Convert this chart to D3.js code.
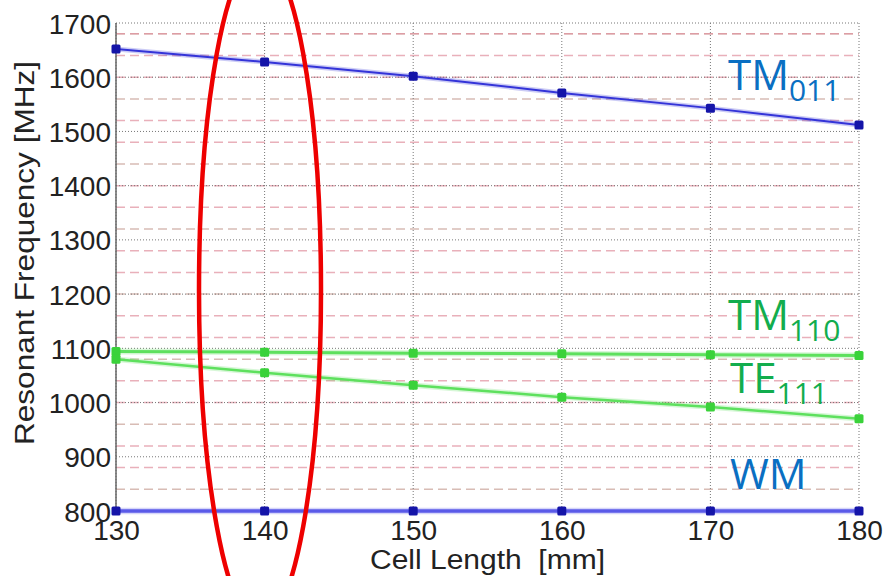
<!DOCTYPE html>
<html>
<head>
<meta charset="utf-8">
<script src="https://cdn.jsdelivr.net/npm/d3@7"></script>
<style>
	body { margin: 0; background: #fff; }
	svg text { font-family: "Liberation Sans", Arial, sans-serif; fill: #222; }
	.ann { font-family: "Open Sans", "Noto Sans", sans-serif; }
</style>
</head>
<body>
<svg width="887" height="576"></svg>
<script>
// cell length [mm]
var cellLength = [130, 140, 150, 160, 170, 180];

// resonant frequencies [MHz]
var tm011 = [1652, 1628, 1602, 1571, 1543, 1512];
var tm110 = [1094, 1093, 1091, 1090, 1088, 1087];
var te111 = [1080, 1055, 1032, 1010, 992, 970];
var wm = [800, 800, 800, 800, 800, 800];

var yTicks = [800, 900, 1000, 1100, 1200, 1300, 1400, 1500, 1600, 1700];
var dashLevels = d3.range(800, 1700, 40).concat([1680]);

var svg = d3.select("svg"),
	width = +svg.attr("width"),
	height = +svg.attr("height");

var x = d3.scaleLinear().domain([130, 180]).range([116, 859]);
var y = d3.scaleLinear().domain([800, 1700]).range([511, 23]);

// red dashed lines
svg.append("g")
	.selectAll("line")
	.data(dashLevels)
	.enter().append("line")
		.attr("x1", x(130)).attr("x2", x(180))
		.attr("y1", function(d) { return y(d); })
		.attr("y2", function(d) { return y(d); })
		.attr("stroke", function(d, i) { return i % 3 == 1 ? "#c8a096" : "#e0909e"; })
		.attr("stroke-width", 1.5)
		.attr("stroke-dasharray", "9,5")
		.attr("opacity", 0.7);

// dotted grid
svg.append("g")
	.selectAll("line")
	.data(yTicks)
	.enter().append("line")
		.attr("x1", x(130)).attr("x2", x(180))
		.attr("y1", function(d) { return y(d); })
		.attr("y2", function(d) { return y(d); })
		.attr("stroke", "#777")
		.attr("stroke-dasharray", "1,2");

svg.append("g")
	.selectAll("line")
	.data(cellLength)
	.enter().append("line")
		.attr("x1", function(d) { return x(d); })
		.attr("x2", function(d) { return x(d); })
		.attr("y1", y(1700)).attr("y2", y(800))
		.attr("stroke", "#777")
		.attr("stroke-dasharray", "1,2");

// left axis
svg.append("line")
	.attr("x1", x(130)).attr("x2", x(130))
	.attr("y1", y(1700)).attr("y2", y(800))
	.attr("stroke", "#666").attr("stroke-width", 1.5);

var yAxis = d3.axisLeft(y).tickValues(yTicks).tickSize(0).tickPadding(5).tickFormat(d3.format("d"));
var gy = svg.append("g").attr("transform", "translate(" + x(130) + ",0)").call(yAxis);
gy.select(".domain").remove();
gy.selectAll("text").style("font-size", "28px").attr("fill", "#222").attr("dy", "0.36em");

var xAxis = d3.axisBottom(x).tickValues(cellLength).tickSize(0).tickPadding(9);
var gx = svg.append("g").attr("transform", "translate(0," + y(800) + ")").call(xAxis);
gx.select(".domain").remove();
gx.selectAll("text").style("font-size", "28px").attr("fill", "#222");

svg.append("text")
	.attr("x", 370).attr("y", 569)
	.style("font-size", "27px")
	.attr("xml:space", "preserve")
	.attr("textLength", 235)
	.attr("lengthAdjust", "spacingAndGlyphs")
	.text("Cell Length  [mm]");

svg.append("text")
	.attr("transform", "translate(34,445) rotate(-90)")
	.style("font-size", "27px")
	.attr("textLength", 384)
	.attr("lengthAdjust", "spacingAndGlyphs")
	.text("Resonant Frequency [MHz]");

// series
var series = [
	{ name: "TM011", values: tm011, line: "#3434d8", mark: "#1414a8", w: 2 },
	{ name: "TM110", values: tm110, line: "#5ee05e", mark: "#3ad23a", w: 3 },
	{ name: "TE111", values: te111, line: "#5ee05e", mark: "#3ad23a", w: 2.5 },
	{ name: "WM", values: wm, line: "#5a5ae8", mark: "#1414a8", w: 3.5 }
];

var line = d3.line()
	.x(function(d, i) { return x(cellLength[i]); })
	.y(function(d) { return y(d); });

series.forEach(function(s) {
	svg.append("path")
		.attr("d", line(s.values))
		.attr("fill", "none")
		.attr("stroke", s.line)
		.attr("stroke-width", s.w + 3)
		.attr("opacity", 0.25);
	svg.append("path")
		.attr("d", line(s.values))
		.attr("fill", "none")
		.attr("stroke", s.line)
		.attr("stroke-width", s.w);
	svg.append("g")
		.selectAll("rect")
		.data(s.values)
		.enter().append("rect")
			.attr("x", function(d, i) { return x(cellLength[i]) - 4.5; })
			.attr("y", function(d) { return y(d) - 4.5; })
			.attr("width", 9).attr("height", 9)
			.attr("rx", 1.5)
			.attr("fill", s.mark);
});

// mode labels
function label(main, sub, px, py, color) {
	var t = svg.append("text")
		.attr("class", "ann")
		.attr("x", px).attr("y", py)
		.style("font-size", "42px")
		.style("fill", color);
	t.append("tspan").text(main);
	if (sub) {
		t.append("tspan").attr("dy", 11).style("font-size", "30px").text(sub);
	}
}
label("TM", "011", 728, 90, "#0a6fc2");
label("TM", "110", 728, 330, "#12ad4e");
label("TE", "111", 730, 393, "#12ad4e");
label("WM", null, 730, 489, "#0a6fc2");

// red ellipse
svg.append("ellipse")
	.attr("cx", 260).attr("cy", 290)
	.attr("rx", 61).attr("ry", 335)
	.attr("fill", "none")
	.attr("stroke", "#ee0000")
	.attr("stroke-width", 4.5);
</script>
</body>
</html>
